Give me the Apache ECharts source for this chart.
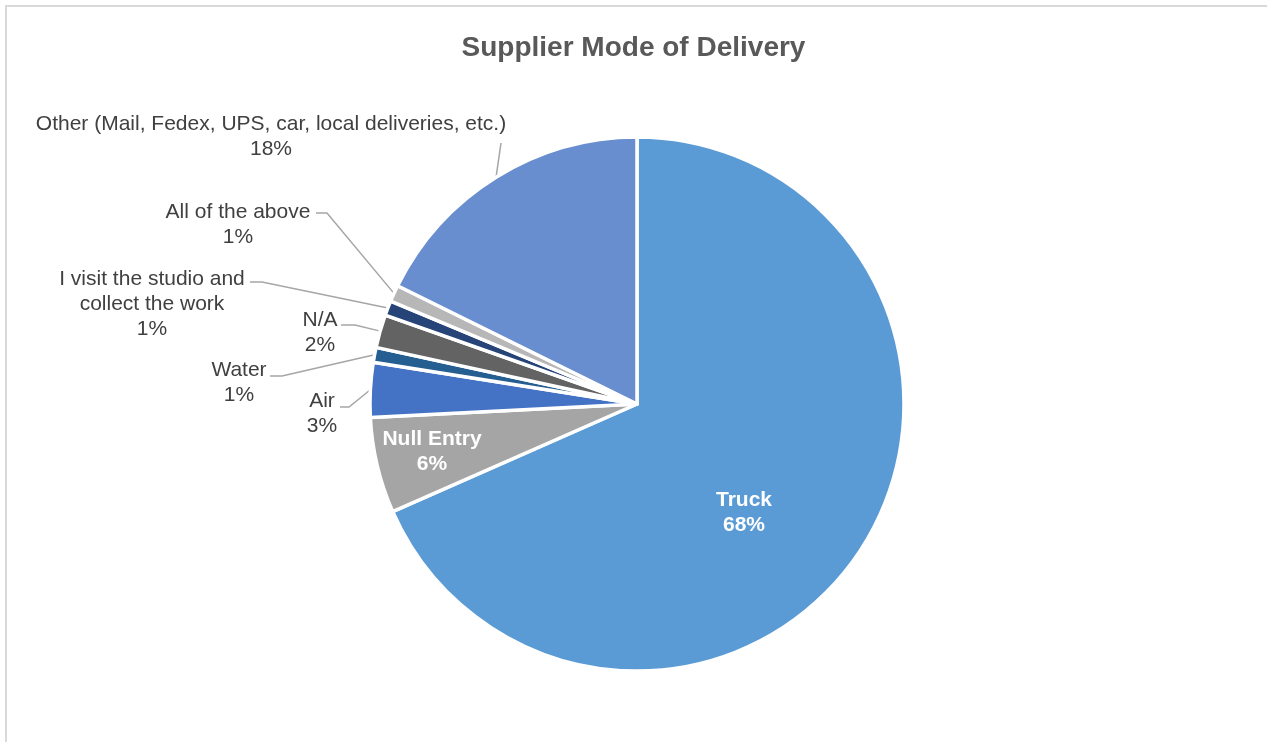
<!DOCTYPE html>
<html>
<head>
<meta charset="utf-8">
<title>Supplier Mode of Delivery</title>
<script src="https://cdn.jsdelivr.net/npm/echarts@6/dist/echarts.min.js"></script>
<style>
  html, body { margin: 0; padding: 0; background: #ffffff; }
  #chart { width: 1267px; height: 742px; }
</style>
</head>
<body>
<div id="chart"></div>
<script>
// Delivery modes, in clockwise order from 12 o'clock
const categories = [
  'Truck',
  'Null Entry',
  'Air',
  'Water',
  'N/A',
  'I visit the studio and\ncollect the work',
  'All of the above',
  'Other (Mail, Fedex, UPS, car, local deliveries, etc.)'
];
// Share of suppliers (%)
const shares = [68.4, 5.8, 3.3, 0.9, 2.0, 0.9, 1.0, 17.7];
const sliceColors = ['#5B9BD5', '#A5A5A5', '#4472C4', '#255E91', '#636363', '#264478', '#B7B7B7', '#698ED0'];

// Label placement (centre of the text block) and leader-line elbow/end points
const labelPlacement = [
  { x: 744, y: 513 },
  { x: 432, y: 452 },
  { x: 322, y: 414, line: [[349, 407], [340, 407]] },
  { x: 239, y: 383, line: [[282, 376], [270, 376]] },
  { x: 320, y: 333, line: [[355, 325], [341, 325]] },
  { x: 152, y: 304, line: [[262, 282], [250, 282]] },
  { x: 238, y: 225, line: [[327, 213], [316, 213]] },
  { x: 271, y: 137, line: [[501, 143], [501, 143]] }
];
const insideIdx = [0, 1];

const chart = echarts.init(document.getElementById('chart'), null, { renderer: 'canvas' });

const seriesData = categories.map((name, i) => {
  const inside = insideIdx.indexOf(i) >= 0;
  return {
    name: name,
    value: shares[i],
    itemStyle: { color: sliceColors[i] },
    label: inside
      ? { position: 'inside', color: '#FFFFFF', fontWeight: 'bold' }
      : { position: 'outside', color: '#404040', fontWeight: 'normal' },
    labelLine: { show: !inside }
  };
});

chart.setOption({
  animation: false,
  backgroundColor: '#FFFFFF',
  title: {
    text: 'Supplier Mode of Delivery',
    left: 'center',
    top: 29,
    textStyle: {
      fontFamily: 'Liberation Sans, Arial, sans-serif',
      fontSize: 28,
      fontWeight: 'bold',
      color: '#595959'
    }
  },
  graphic: [{
    type: 'rect',
    shape: { x: 6, y: 6, width: 1300, height: 800 },
    style: { fill: 'none', stroke: '#D9D9D9', lineWidth: 2 },
    silent: true,
    z: -1
  }],
  series: [{
    type: 'pie',
    center: [637, 404],
    radius: [0, 267],
    startAngle: 90,
    clockwise: true,
    percentPrecision: 0,
    avoidLabelOverlap: false,
    itemStyle: { borderColor: '#FFFFFF', borderWidth: 3.5 },
    label: {
      show: true,
      formatter: '{b}\n{d}%',
      fontFamily: 'Liberation Sans, Arial, sans-serif',
      fontSize: 21,
      lineHeight: 25,
      align: 'center'
    },
    labelLine: {
      show: true,
      length: 10,
      length2: 10,
      lineStyle: { color: '#A6A6A6', width: 1.5 }
    },
    labelLayout: function (params) {
      const p = labelPlacement[params.dataIndex];
      const out = { x: p.x, y: p.y, align: 'center', verticalAlign: 'middle', hideOverlap: false };
      if (p.line && params.labelLinePoints) {
        const start = params.labelLinePoints[0];
        out.labelLinePoints = [start, p.line[0], p.line[1]];
      }
      return out;
    },
    data: seriesData
  }]
});
</script>
</body>
</html>
